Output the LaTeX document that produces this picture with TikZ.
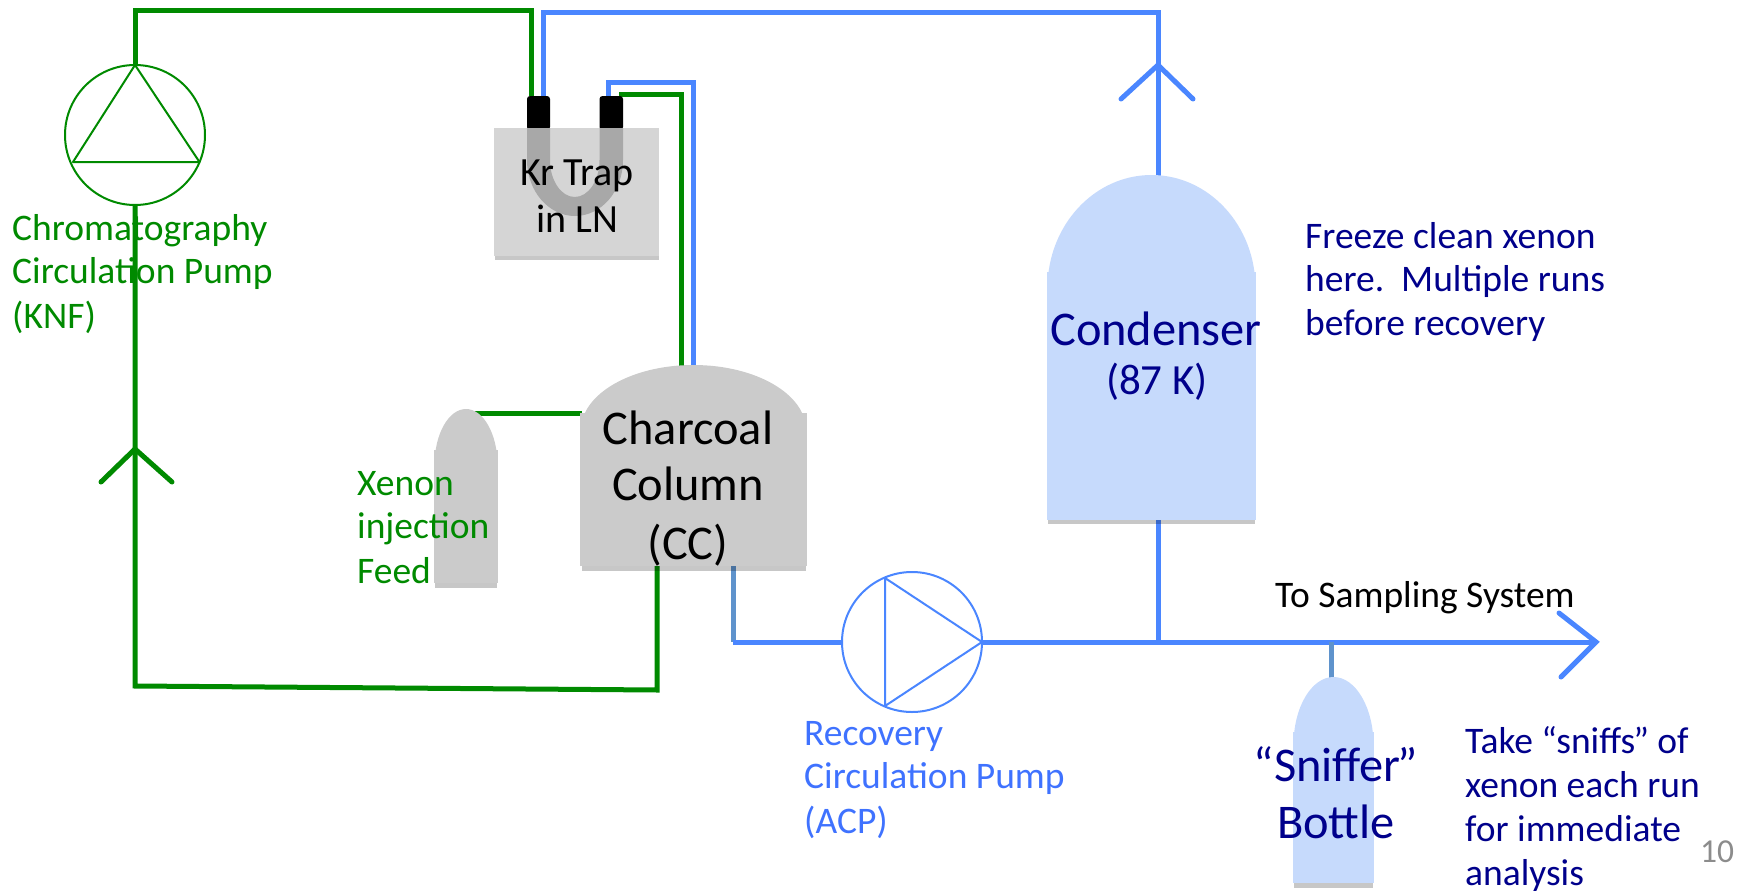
\documentclass[tikz,border=0pt]{standalone}
\usepackage{fontspec}
\setmainfont{Carlito}
\definecolor{pgreen}{HTML}{008A00}
\definecolor{pblue}{HTML}{4A86FF}
\definecolor{sblue}{HTML}{5F93CC}
\definecolor{tblue}{HTML}{3F72FF}
\definecolor{navy1}{HTML}{00008B}
\definecolor{lblue}{HTML}{C6DAFC}
\definecolor{cgray}{HTML}{CBCBCB}
\definecolor{trapgray}{HTML}{D5D5D5}
\definecolor{ugray}{HTML}{A8A8A8}
\definecolor{numgray}{HTML}{8C8C8C}
\tikzset{
  gline/.style={draw=pgreen,line width=5pt,line cap=butt,line join=miter},
  bline/.style={draw=pblue,line width=5pt,line cap=butt,line join=miter},
  sline/.style={draw=sblue,line width=5pt},
  gthin/.style={draw=pgreen,line width=2pt,line join=round},
  bthin/.style={draw=pblue,line width=2pt,line join=round},
  pumpc/.style={circle,minimum size=140pt,inner sep=0pt,fill=white},
  lab/.style={inner sep=0pt,anchor=base west,font=\fontsize{37.5}{44}\selectfont},
  labc/.style={inner sep=0pt,anchor=base,font=\fontsize{40}{46}\selectfont},
  big/.style={inner sep=0pt,anchor=base,font=\fontsize{48.4}{56}\selectfont},
  shadowstrip/.style={fill=black,opacity=0.22}
}
\begin{document}
\begin{tikzpicture}[x=1pt,y=-1pt]
\useasboundingbox (0,0) rectangle (1746,891);
% named junctions
\coordinate (gtl) at (135,11);
\coordinate (gtr) at (531,11);
\coordinate (gtrap) at (531,96);
\coordinate (gbl) at (135,686);
\coordinate (gbr) at (657,690);
\coordinate (gcc) at (657,566);
\coordinate (g2a) at (619,94);
\coordinate (g2b) at (681,94);
\coordinate (g2c) at (681,366);
\coordinate (b1a) at (543,96);
\coordinate (b1b) at (543,13);
\coordinate (b1c) at (1158,13);
\coordinate (b1d) at (1158,176);
\coordinate (b2a) at (608,96);
\coordinate (b2b) at (608,83);
\coordinate (b2c) at (693,83);
\coordinate (b2d) at (693,366);
\coordinate (feedtop) at (475,413);
\coordinate (ccleft) at (582,413);
\coordinate (ccout) at (733,566);
\coordinate (ccbend) at (733,642);
\coordinate (junc) at (1158,642);
\coordinate (condb) at (1158,520);
\coordinate (tip) at (1596,642);
\coordinate (snj) at (1331,642);
\coordinate (snt) at (1331,679);
% upper arrow marks
\coordinate (uA) at (1158,65);
\coordinate (uL) at (1121,99);
\coordinate (uR) at (1193,99);
\coordinate (gA) at (135,449);
\coordinate (gL) at (101,482);
\coordinate (gR) at (172,482);
\coordinate (tL) at (1559,613);
\coordinate (tR) at (1561,677);
% pumps
\node[pumpc,draw=pgreen,line width=2pt] (knf) at (135,135) {};
\node[pumpc,draw=pblue,line width=2pt] (acp) at (912,642) {};
\coordinate (kA) at (135,65);
\coordinate (kL) at (73,162);
\coordinate (kR) at (199.5,162);
\coordinate (aA) at (982,642);
\coordinate (aT) at (885,578);
\coordinate (aB) at (885,706);
% green lines
\draw[gline] (gcc) -- (gbr) -- (gbl) -- (knf.south);
\draw[gline] (knf.north) -- (gtl) -- (gtr) -- (gtrap);
\draw[gline] (g2a) -- (g2b) -- (g2c);
\draw[gline] (feedtop) -- (ccleft);
\draw[gline,line cap=round] (gL) -- (gA) -- (gR);
% blue lines
\draw[bline] (b1a) -- (b1b) -- (b1c) -- (b1d);
\draw[bline] (b2a) -- (b2b) -- (b2c) -- (b2d);
\draw[sline] (ccout) -- (ccbend);
\draw[bline] (ccbend) -- (acp.west);
\draw[bline] (acp.east) -- (tip);
\draw[bline] (condb) -- (junc);
\draw[sline] (snj) -- (snt);
\draw[bline,line cap=round,line join=miter] (uL) -- (uA) -- (uR);
\draw[bline,line cap=round,line join=miter] (tL) -- (tip) -- (tR);
% pump triangles
\draw[gthin] (kA) -- (kL) -- (kR) -- cycle;
\draw[bthin] (aA) -- (aT) -- (aB) -- cycle;
% Kr trap
\fill[black,rounded corners=3pt] (527,130) -- (527,96) -- (550,96) -- (550,130) -- cycle;
\fill[black,rounded corners=3pt] (599.5,130) -- (599.5,96) -- (623,96) -- (623,130) -- cycle;
\fill[shadowstrip] (495,256) rectangle (659,260);
\fill[trapgray] (494,128) rectangle (659,256);
\fill[ugray] (527,128) -- (527,160) arc[start angle=180,end angle=0,x radius=48,y radius=56]
  -- (623,128) -- (599.5,128) -- (599.5,160) arc[start angle=0,end angle=180,x radius=24.75,y radius=37]
  -- (550,128) -- cycle;
% charcoal column
\fill[shadowstrip] (582,566) rectangle (806,571);
\fill[cgray] (580,413) rectangle (807,566);
\fill[cgray] (581,430) arc[start angle=180,end angle=360,x radius=112.5,y radius=65] -- cycle;
% xenon feed
\fill[shadowstrip] (435,583) rectangle (497,588);
\fill[cgray] (434,450) rectangle (498,583);
\fill[cgray] (434.5,465) arc[start angle=180,end angle=360,x radius=31.5,y radius=56] -- cycle;
% condenser
\fill[shadowstrip] (1048,520) rectangle (1255,524);
\fill[lblue] (1047,272) rectangle (1256,520);
\fill[lblue] (1047.5,288) arc[start angle=180,end angle=360,x radius=104,y radius=113] -- cycle;
% sniffer
\fill[shadowstrip] (1294,883) rectangle (1373,888);
\fill[lblue] (1293,732) rectangle (1374,883);
\fill[lblue] (1293.5,745) arc[start angle=180,end angle=360,x radius=40,y radius=68] -- cycle;
% labels
\node[lab,text=pgreen] (l1) at (12,240) {Chromatography};
\node[lab,text=pgreen] (l2) at (12,283) {Circulation Pump};
\node[lab,text=pgreen] (l3) at (12,328) {(KNF)};
\node[labc] (kr1) at (577,185) {Kr Trap};
\node[labc] (kr2) at (577,232) {in LN};
\node[lab,text=pgreen] (x1) at (357,495) {Xenon};
\node[lab,text=pgreen] (x2) at (357,538) {injection};
\node[lab,text=pgreen] (x3) at (357,583) {Feed};
\node[big] (c1) at (688,444) {Charcoal};
\node[big] (c2) at (688,500) {Column};
\node[big] (c3) at (688,559) {(CC)};
\node[big,text=navy1] (d1) at (1156,345) {Condenser};
\node[labc,font=\fontsize{43}{50}\selectfont,text=navy1] (d2) at (1157,394) {(87 K)};
\node[lab,text=navy1] (f1) at (1305,248) {Freeze clean xenon};
\node[lab,text=navy1] (f2) at (1305,291) {here.\ \ Multiple runs};
\node[lab,text=navy1] (f3) at (1305,335) {before recovery};
\node[lab] (ts) at (1275,607) {To Sampling System};
\node[lab,text=tblue] (r1) at (804,745) {Recovery};
\node[lab,text=tblue] (r2) at (804,788) {Circulation Pump};
\node[lab,text=tblue] (r3) at (804,833) {(ACP)};
\node[big,text=navy1] (s1) at (1336,781) {“Sniffer\kern-3pt”};
\node[big,text=navy1] (s2) at (1336,838) {Bottle};
\node[lab,text=navy1] (t1) at (1465,753) {Take “sniffs\kern-2pt” of};
\node[lab,text=navy1] (t2) at (1465,797) {xenon each run};
\node[lab,text=navy1] (t3) at (1465,841) {for immediate};
\node[lab,text=navy1] (t4) at (1465,885) {analysis};
\node[lab,text=numgray,font=\fontsize{33.5}{40}\selectfont] (n) at (1700,862) {10};
\end{tikzpicture}
\end{document}
